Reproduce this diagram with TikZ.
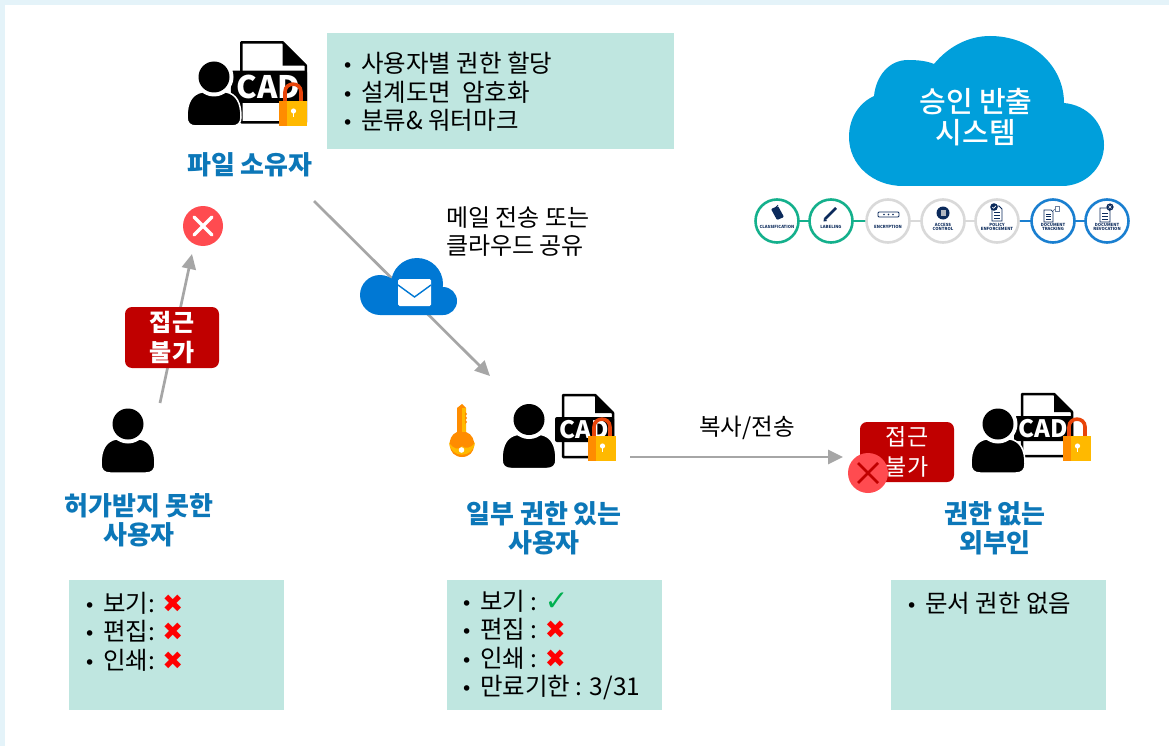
\documentclass[tikz,border=0pt]{standalone}
\usepackage{fontspec}
\setmainfont{Noto Sans CJK KR}
\newfontfamily\symfont{DejaVu Sans}
\newfontfamily\midfont{Noto Sans CJK KR Medium}
\usetikzlibrary{arrows.meta}
\definecolor{framebg}{HTML}{E4F3F9}
\definecolor{tealbox}{HTML}{BFE6E0}
\definecolor{titleblue}{HTML}{0C77B8}
\definecolor{cloudblue}{HTML}{009FDB}
\definecolor{mailblue}{HTML}{0078D4}
\definecolor{arrowgrey}{HTML}{A6A6A6}
\definecolor{deepred}{HTML}{C00000}
\definecolor{xred}{HTML}{FF4B50}
\definecolor{lockgold}{HTML}{FFB900}
\definecolor{lockorange}{HTML}{FF8C00}
\definecolor{shackle}{HTML}{E8440A}
\definecolor{stepgreen}{HTML}{14B08C}
\definecolor{stepgrey}{HTML}{D9D9D9}
\definecolor{stepblue}{HTML}{1A7FD0}
\definecolor{navy}{HTML}{0B2A5B}
\definecolor{okgreen}{HTML}{00B050}
\newcommand{\bl}{\makebox[19pt][l]{{\symfont\fontsize{19}{19}\selectfont •}}}
\newcommand{\nomark}{{\symfont\fontsize{25}{25}\selectfont\color{red}✖}}
\newcommand{\okmark}{{\symfont\fontsize{28}{25}\selectfont\color{okgreen}✓}}
\tikzset{
  x=1pt,y=-1pt,
  conn/.style={draw=arrowgrey,line width=2.7pt,-{Triangle[length=15pt,width=14pt]}},
  teal/.style={fill=tealbox,draw=none},
  listtext/.style={anchor=north west,inner sep=0pt,align=left,font=\fontsize{24.5}{28.5}\selectfont,text=black},
  titletext/.style={align=center,inner sep=0pt,text=titleblue,font=\fontsize{26}{29}\selectfont\bfseries},
  plaintext/.style={inner sep=0pt,text=black},
  redbox/.style={fill=deepred,rounded corners=7pt,text=white,align=center,inner sep=0pt,
     font=\fontsize{23}{30}\selectfont},
  stepring/.style={circle,minimum size=43pt,inner sep=0pt,line width=2.6pt,fill=white},
  tiny/.style={inner sep=0pt,align=center,text=navy,font=\fontsize{4.2}{5}\selectfont\bfseries},
  personpic/.pic={
    \path[fill=black,draw=white,line width=1.5pt] (-27,40) .. controls (-27,25) and (-22,17) .. (-12,15) -- (12,15)
      .. controls (22,17) and (27,25) .. (27,40) .. controls (27,46) and (24,49) .. (18,49) -- (-18,49)
      .. controls (-24,49) and (-27,46) .. (-27,40) -- cycle;
    \fill[white] (0,0) circle[radius=19.5pt];
    \fill[black] (0,0) circle[radius=15.5pt];
  },
  cadpic/.pic={
    \path[fill=white,draw=black,line width=2.5pt,line join=round] (1,1) -- (33,1) -- (51,19) -- (51,63) -- (1,63) -- cycle;
    \fill[black] (33,1) -- (51,19) -- (33,19) -- cycle;
    \fill[black,rounded corners=2pt] (-7,23) rectangle (52,48);
    \node[inner sep=0pt,text=white,font=\fontsize{24}{24}\selectfont\bfseries] at (22,35.5) {CAD};
  },
  lockpic/.pic={
    \draw[shackle,line width=3.6pt] (6,2) -- (6,-9) .. controls (6,-19.5) and (22,-19.5) .. (22,-9) -- (22,2);
    \fill[lockgold] (0,0) rectangle (28,25);
    \fill[lockorange] (0,0) rectangle (8,25);
    \fill[white] (14.5,10) circle[radius=2.6pt];
    \fill[white] (13.8,10) rectangle (15.2,16);
  },
}
\begin{document}
\begin{tikzpicture}
\useasboundingbox (0,0) rectangle (1169,746);
\fill[framebg] (0,0) rectangle (1169,746);
\fill[white] (5,5) rectangle (1169,746);

% teal panels
\fill[teal] (327,33) rectangle (674,149);
\fill[teal] (69,580) rectangle (284,710);
\fill[teal] (447,580) rectangle (662,710);
\fill[teal] (891,580) rectangle (1106,710);

\node[listtext] (ownerlist) at (342,52) {\bl 사용자별 권한 할당\\\bl 설계도면\ \ 암호화\\\bl 분류\& 워터마크};
\node[listtext] (denylist) at (84,592) {\bl 보기: \nomark\\\bl 편집: \nomark\\\bl 인쇄: \nomark};
\node[listtext] (partlist) at (461,590) {\bl 보기 : \okmark\\\bl 편집 : \nomark\\\bl 인쇄 : \nomark\\\bl 만료기한 : 3/31};
\node[listtext] (outlist) at (906,592) {\bl 문서 권한 없음};

% connectors
\coordinate (ownerout) at (314,201);
\coordinate (sharedin) at (490,376);
\coordinate (denyout) at (160,403);
\coordinate (copyout) at (630,457);
\coordinate (outsidein) at (843,457);
\draw[conn] (ownerout) -- (sharedin);
\draw[conn] (copyout) -- (outsidein);
\node[fill=xred,circle,minimum size=40pt,inner sep=0pt] (xdeny) at (203,226) {};
\coordinate (denyin) at (192,254);
\draw[conn] (denyout) -- (denyin);
\draw[white,line width=3.5pt,line cap=round] (194,217) -- (212,235) (212,217) -- (194,235);

% owner
\pic (ownerfile) at (240,41) [scale=1.29,transform shape] {cadpic};
\pic (ownerperson) at (214,77) {personpic};
\pic (ownerlock) at (279,101) {lockpic};
\node[titletext] (ownertitle) at (250,165) {파일 소유자};

% mail cloud
\fill[mailblue] (380,295) circle[radius=20pt] (417,284) circle[radius=26pt] (443,301) circle[radius=14pt] (380,290) rectangle (443,315);
\fill[white,rounded corners=1.5pt] (398,279) rectangle (431,306);
\draw[mailblue,line width=1.4pt] (398,285) -- (414.5,297) -- (431,285);
\node[plaintext,align=left,anchor=north west,font=\fontsize{24}{28}\selectfont] (maillabel) at (446,206) {메일 전송 또는\\클라우드 공유};

% unauthorised
\node[redbox,font=\fontsize{24}{30}\selectfont\bfseries,minimum width=94pt,minimum height=61pt] (denybox) at (172,337.5) {접근\\불가};
\pic (denyperson) at (128,424) {personpic};
\node[titletext] (denytitle) at (139,520.5) {허가받지 못한\\사용자};

% partial rights: key
\fill[lockorange] (462,404) -- (466,408) -- (466,432) .. controls (478,436) and (477,457) .. (462,457) .. controls (447,457) and (446,436) .. (457,432) -- (457,408) -- cycle;
\fill[lockgold] (449,442) .. controls (450,459) and (474,459) .. (475,442) .. controls (472,449) and (464,449) .. (462,446) .. controls (460,451) and (452,449) .. (449,442) -- cycle;
\fill[lockgold] (462,408) -- (466,408) -- (466,432) -- (462,432) -- cycle;
\fill[lockorange] (465,412) -- (467,414) -- (465,416) -- (467,418) -- (465,420) -- (467,422) -- (465,424) -- cycle;
\fill[white] (461.5,450) circle[radius=2.8pt];
\pic (partfile) at (562,394) {cadpic};
\pic (partperson) at (529,419.5) {personpic};
\pic (partlock) at (588,436) {lockpic};
\node[titletext] (parttitle) at (544,528) {일부 권한 있는\\사용자};
\node[plaintext,font=\fontsize{23.5}{24}\selectfont] (copylabel) at (747,428) {복사/전송};

% outsider
\node[redbox,minimum width=94pt,minimum height=60pt] (outbox) at (907,452) {접근\\불가};
\node[fill=xred,circle,minimum size=40pt,inner sep=0pt] (xout) at (868,473) {};
\draw[deepred,line width=2.8pt] (858,463) -- (878,483) (878,463) -- (858,483);
\pic (outfile) at (1021,393) {cadpic};
\pic (outperson) at (998,424) {personpic};
\pic (outlock) at (1063,436) {lockpic};
\node[titletext] (outtitle) at (995,528) {권한 없는\\외부인};

% big cloud
\fill[cloudblue] (903,186) .. controls (873,186) and (849,165) .. (849,137)
  .. controls (849,118) and (859,103) .. (874,96)
  .. controls (876,76) and (889,60) .. (908,60)
  .. controls (918,60) and (927,61) .. (934,64)
  .. controls (948,47) and (968,36) .. (990,36)
  .. controls (1032,36) and (1064,66) .. (1064,103)
  .. controls (1087,105) and (1104,123) .. (1104,145)
  .. controls (1104,168) and (1085,186) .. (1062,186) -- cycle;
\node[inner sep=0pt,align=center,text=white,font=\fontsize{29}{31}\midfont] (cloudlabel) at (976,117.5) {승인 반출\\시스템};

% stage chain
\draw[stepgreen,line width=2.6pt] (777,221) -- (888,221);
\draw[stepgrey,line width=2.6pt] (888,221) -- (997,221);
\draw[stepblue,line width=2.6pt] (997,221) -- (1107,221);
\node[stepring,draw=stepgreen] (s1) at (777,221) {};
\node[stepring,draw=stepgreen] (s2) at (831,221) {};
\node[stepring,draw=stepgrey] (s3) at (888,221) {};
\node[stepring,draw=stepgrey] (s4) at (943,221) {};
\node[stepring,draw=stepgrey] (s5) at (997,221) {};
\node[stepring,draw=stepblue] (s6) at (1053,221) {};
\node[stepring,draw=stepblue] (s7) at (1107,221) {};
\node[tiny] (t1) at (777,227) {CLASSIFICATION};
\node[tiny] (t2) at (831,227) {LABELING};
\node[tiny] (t3) at (888,227) {ENCRYPTION};
\node[tiny] (t4) at (943,227) {ACCESS\\[-1pt]CONTROL};
\node[tiny] (t5) at (997,227) {POLICY\\[-1pt]ENFORCEMENT};
\node[tiny] (t6) at (1053,227) {DOCUMENT\\[-1pt]TRACKING};
\node[tiny] (t7) at (1107,227) {DOCUMENT\\[-1pt]REVOCATION};
% stage icons
\fill[navy,rounded corners=1pt] (771,209) -- (778,206) -- (784,217) -- (777,220) -- cycle;
\draw[navy,line width=.7pt] (775,208) -- (778,205);
\draw[navy,line width=2.6pt] (825,219) -- (836,208);
\fill[navy] (823.5,221.5) -- (824,218) -- (827,221) -- cycle;
\draw[navy,line width=.9pt,rounded corners=1pt] (878,212) rectangle (899,217);
\fill[navy] (884,214.5) circle[radius=.8pt] (888.5,214.5) circle[radius=.8pt] (893,214.5) circle[radius=.8pt];
\fill[navy] (943,213) circle[radius=6.5pt];
\fill[stepgrey!80!navy] (940.5,210) rectangle (945.5,216);
\path[fill=white,draw=navy,line width=.8pt] (992,206) -- (999,206) -- (1002,209) -- (1002,221) -- (992,221) -- cycle;
\draw[navy,line width=.7pt] (994,212) -- (1000,212) (994,215) -- (1000,215) (994,218) -- (1000,218);
\fill[navy] (994,207) circle[radius=3.8pt];
\draw[white,line width=.6pt] (992.3,207) -- (993.6,208.3) -- (996,205.8);
\path[fill=white,draw=navy,line width=.7pt] (1044,210) -- (1051,210) -- (1053,212) -- (1053,222) -- (1044,222) -- cycle;
\draw[navy,line width=.6pt] (1046,214) -- (1051,214) (1046,216.5) -- (1051,216.5) (1046,219) -- (1051,219);
\path[fill=white,draw=navy!60,line width=.5pt] (1055,206) rectangle (1059,211);
\draw[navy!70,line width=.4pt,dashed] (1053,211) -- (1055,209);
\path[fill=white,draw=navy,line width=.8pt] (1100,208) -- (1107,208) -- (1110,211) -- (1110,222) -- (1100,222) -- cycle;
\draw[navy,line width=.7pt] (1102,213) -- (1108,213) (1102,216) -- (1108,216) (1102,219) -- (1108,219);
\fill[navy] (1110,207) circle[radius=3.6pt];
\draw[white,line width=.6pt] (1108.6,205.6) -- (1111.4,208.4) (1111.4,205.6) -- (1108.6,208.4);
\end{tikzpicture}
\end{document}
